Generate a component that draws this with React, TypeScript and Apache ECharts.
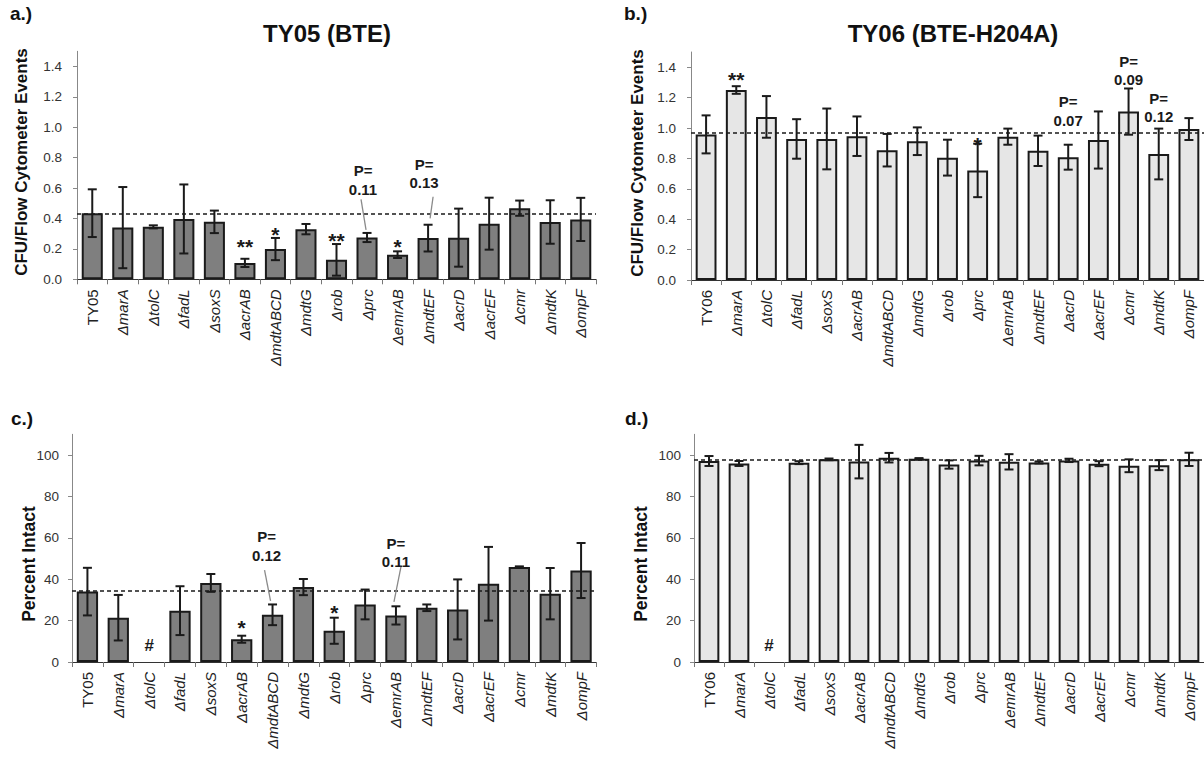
import React, { useEffect, useRef } from 'react';
import * as echarts from 'echarts';

// ---------- data ----------
const catsA = ['TY05', 'ΔmarA', 'ΔtolC', 'ΔfadL', 'ΔsoxS', 'ΔacrAB', 'ΔmdtABCD', 'ΔmdtG', 'Δrob', 'Δprc', 'ΔemrAB', 'ΔmdtEF', 'ΔacrD', 'ΔacrEF', 'Δcmr', 'ΔmdtK', 'ΔompF'];
const catsB = ['TY06', 'ΔmarA', 'ΔtolC', 'ΔfadL', 'ΔsoxS', 'ΔacrAB', 'ΔmdtABCD', 'ΔmdtG', 'Δrob', 'Δprc', 'ΔemrAB', 'ΔmdtEF', 'ΔacrD', 'ΔacrEF', 'Δcmr', 'ΔmdtK', 'ΔompF'];

const ratioTicks = [0, 0.2, 0.4, 0.6, 0.8, 1.0, 1.2, 1.4];
const pctTicks = [0, 20, 40, 60, 80, 100];

// a.) TY05 (BTE): CFU / flow cytometer events
const meanA = [0.435, 0.34, 0.345, 0.397, 0.378, 0.108, 0.199, 0.33, 0.128, 0.275, 0.162, 0.271, 0.274, 0.366, 0.468, 0.377, 0.394];
const sdA = [0.157, 0.267, 0.01, 0.227, 0.074, 0.027, 0.073, 0.034, 0.104, 0.03, 0.022, 0.088, 0.191, 0.171, 0.05, 0.143, 0.142];
const refA = 0.434;

// b.) TY06 (BTE-H204A)
const meanB = [0.958, 1.25, 1.073, 0.928, 0.928, 0.946, 0.854, 0.913, 0.805, 0.721, 0.943, 0.85, 0.808, 0.921, 1.108, 0.829, 0.993];
const sdB = [0.125, 0.025, 0.137, 0.13, 0.2, 0.13, 0.107, 0.091, 0.118, 0.176, 0.053, 0.1, 0.082, 0.188, 0.152, 0.167, 0.072];
const refB = 0.969;

// c.) TY05 percent intact
const meanC = [34, 21.4, null, 24.8, 38.2, 11, 22.8, 36.2, 15.1, 27.8, 22.5, 26.2, 25.4, 37.8, 45.9, 33, 44.2];
const sdC = [11.5, 11, null, 11.8, 4.3, 1.7, 5, 3.9, 6.3, 7.2, 4.4, 1.6, 14.5, 17.8, 0.3, 12.4, 13.3];
const refC = 34.4;

// d.) TY06 percent intact
const meanD = [97.1, 95.9, null, 96.3, 97.9, 96.8, 98.7, 98.2, 95.4, 97.3, 96.7, 96.4, 97.4, 95.8, 94.8, 95.1, 97.9];
const sdD = [2.4, 1.2, null, 0.7, 0.4, 8.1, 2.3, 0.3, 2, 2.3, 3.7, 0.5, 0.8, 1.2, 3.1, 2.4, 3.2];
const refD = 97.7;

// significance annotations (category index, value at which the note sits)
const notesA = [
  { cat: 5, y: 0.243, text: '**' },
  { cat: 6, y: 0.324, text: '*' },
  { cat: 8, y: 0.285, text: '**' },
  { cat: 9, y: 0.653, text: 'P=\n0.11', dx: -4 },
  { cat: 10, y: 0.247, text: '*' },
  { cat: 11, y: 0.697, text: 'P=\n0.13', dx: -4 },
];
const notesB = [
  { cat: 1, y: 1.349, text: '**' },
  { cat: 9, y: 0.921, text: '*' },
  { cat: 12, y: 1.113, text: 'P=\n0.07' },
  { cat: 14, y: 1.378, text: 'P=\n0.09' },
  { cat: 15, y: 1.135, text: 'P=\n0.12' },
];
const notesC = [
  { cat: 2, y: 8.2, text: '#' },
  { cat: 5, y: 18.8, text: '*' },
  { cat: 8, y: 26.1, text: '*' },
  { cat: 6, y: 55.9, text: 'P=\n0.12', dx: -6 },
  { cat: 10, y: 52.9, text: 'P=\n0.11' },
];
const notesD = [{ cat: 2, y: 8.2, text: '#' }];

// leader lines from P-value notes to bars (category, from value, to value)
const leadersA = [
  { cat: 9, from: 0.526, to: 0.325, dx1: -6, dx2: -1 },
  { cat: 11, from: 0.543, to: 0.401, dx1: 5, dx2: 2 },
];
const leadersC = [
  { cat: 6, from: 44.4, to: 29.5, dx1: -8, dx2: -2 },
  { cat: 10, from: 46, to: 29.1, dx1: 5, dx2: -2 },
];

// ---------- styling ----------
const FONT = "'Liberation Sans', Arial, sans-serif";
const DARK = '#1a1a1a';
const CAT_FS = 15;

function xAxisOf(gi: number, cats: string[]) {
  return {
    type: 'category',
    gridIndex: gi,
    data: cats,
    axisLine: { lineStyle: { color: '#333', width: 1 } },
    axisTick: { show: true, length: 5, lineStyle: { color: '#777' } },
    axisLabel: {
      interval: 0,
      rotate: 90,
      margin: 10,
      color: '#222',
      fontSize: CAT_FS,
      fontFamily: FONT,
      formatter: (v: string) => (v.startsWith('TY') ? `{n|${v}}` : `{i|${v}}`),
      rich: {
        n: { fontSize: CAT_FS, fontFamily: FONT, color: '#222' },
        i: { fontSize: CAT_FS, fontFamily: FONT, color: '#222', fontStyle: 'italic' },
      },
    },
    splitLine: { show: false },
  };
}

function yAxisOf(gi: number, max: number, ticks: number[], digits: number, margin: number) {
  return {
    type: 'value',
    gridIndex: gi,
    min: 0,
    max,
    axisLine: { show: true, lineStyle: { color: '#888', width: 1 } },
    axisTick: { show: true, length: 4, lineStyle: { color: '#888' }, customValues: ticks },
    axisLabel: {
      customValues: ticks,
      color: '#333',
      fontSize: 13.5,
      fontFamily: FONT,
      margin,
      formatter: (v: number) => v.toFixed(digits),
    },
    splitLine: { show: false },
  };
}

function barSeries(gi: number, means: (number | null)[], fill: string, ref: number) {
  return {
    type: 'bar',
    xAxisIndex: gi,
    yAxisIndex: gi,
    data: means.map((m) => (m == null ? '-' : m)),
    barCategoryGap: '31%',
    itemStyle: { color: fill, borderColor: DARK, borderWidth: 2 },
    markLine: {
      silent: true,
      symbol: 'none',
      label: { show: false },
      lineStyle: { type: [4, 3], color: DARK, width: 1.5 },
      data: [{ yAxis: ref }],
    },
  };
}

function errSeries(gi: number, means: (number | null)[], sds: (number | null)[]) {
  const data: number[][] = [];
  means.forEach((m, i) => {
    if (m != null && sds[i] != null) data.push([i, m, sds[i] as number]);
  });
  return {
    type: 'custom',
    xAxisIndex: gi,
    yAxisIndex: gi,
    data,
    z: 5,
    clip: false,
    silent: true,
    renderItem: (_p: any, api: any) => {
      const x = api.value(0);
      const m = api.value(1);
      const s = api.value(2);
      const hi = api.coord([x, m + s]);
      const lo = api.coord([x, m - s]);
      const cw = 4.5;
      const st = { stroke: DARK, lineWidth: 2 };
      return {
        type: 'group',
        children: [
          { type: 'line', shape: { x1: hi[0], y1: hi[1], x2: lo[0], y2: lo[1] }, style: st },
          { type: 'line', shape: { x1: hi[0] - cw, y1: hi[1], x2: hi[0] + cw, y2: hi[1] }, style: st },
          { type: 'line', shape: { x1: lo[0] - cw, y1: lo[1], x2: lo[0] + cw, y2: lo[1] }, style: st },
        ],
      };
    },
  };
}

function noteSeries(gi: number, notes: { cat: number; y: number; text: string; dx?: number }[]) {
  return {
    type: 'custom',
    xAxisIndex: gi,
    yAxisIndex: gi,
    data: notes.map((n) => [n.cat, n.y]),
    z: 6,
    clip: false,
    silent: true,
    renderItem: (p: any, api: any) => {
      const n = notes[p.dataIndex];
      const c = api.coord([api.value(0), api.value(1)]);
      const star = n.text.startsWith('*');
      const fs = star ? 21 : n.text === '#' ? 17 : 15;
      return {
        type: 'text',
        x: c[0] + (n.dx || 0),
        y: c[1] + (star ? fs * 0.22 : 0),
        style: {
          text: n.text,
          fill: DARK,
          fontSize: fs,
          fontWeight: 'bold',
          fontFamily: FONT,
          lineHeight: 18.6,
          align: 'center',
          verticalAlign: 'middle',
          textAlign: 'center',
          textVerticalAlign: 'middle',
        },
      };
    },
  };
}

function leaderSeries(gi: number, leaders: { cat: number; from: number; to: number; dx1: number; dx2: number }[]) {
  return {
    type: 'custom',
    xAxisIndex: gi,
    yAxisIndex: gi,
    data: leaders.map((l) => [l.cat, l.from, l.to]),
    z: 6,
    clip: false,
    silent: true,
    renderItem: (p: any, api: any) => {
      const l = leaders[p.dataIndex];
      const a = api.coord([api.value(0), api.value(1)]);
      const b = api.coord([api.value(0), api.value(2)]);
      return {
        type: 'line',
        shape: { x1: a[0] + l.dx1, y1: a[1], x2: b[0] + l.dx2, y2: b[1] },
        style: { stroke: '#8a8a8a', lineWidth: 1.3 },
      };
    },
  };
}

function label(text: string, x: number, y: number, size: number, align = 'left', rotation = 0) {
  return {
    type: 'text',
    x,
    y,
    rotation,
    style: {
      text,
      fill: '#111',
      fontSize: size,
      fontWeight: 'bold',
      fontFamily: FONT,
      align,
      verticalAlign: 'middle',
      textAlign: align,
      textVerticalAlign: 'middle',
    },
  };
}

export default function App() {
  const ref = useRef<HTMLDivElement>(null);
  useEffect(() => {
    if (!ref.current) return;
    const chart = echarts.init(ref.current, undefined, { renderer: 'svg' });
    const R = Math.PI / 2;
    const option = {
      animation: false,
      backgroundColor: '#ffffff',
      textStyle: { fontFamily: FONT },
      grid: [
        { left: 77, top: 51.3, width: 519, height: 228 },
        { left: 691, top: 52, width: 523, height: 228 },
        { left: 72, top: 434.3, width: 524.5, height: 227.7 },
        { left: 694, top: 434.3, width: 523, height: 227.7 },
      ],
      xAxis: [xAxisOf(0, catsA), xAxisOf(1, catsB), xAxisOf(2, catsA), xAxisOf(3, catsB)],
      yAxis: [
        yAxisOf(0, 1.5, ratioTicks, 1, 15),
        yAxisOf(1, 1.5, ratioTicks, 1, 15),
        yAxisOf(2, 110, pctTicks, 0, 13),
        yAxisOf(3, 110, pctTicks, 0, 13),
      ],
      series: [
        barSeries(0, meanA, '#7f7f7f', refA),
        errSeries(0, meanA, sdA),
        noteSeries(0, notesA),
        leaderSeries(0, leadersA),
        barSeries(1, meanB, '#e6e6e6', refB),
        errSeries(1, meanB, sdB),
        noteSeries(1, notesB),
        barSeries(2, meanC, '#7f7f7f', refC),
        errSeries(2, meanC, sdC),
        noteSeries(2, notesC),
        leaderSeries(2, leadersC),
        barSeries(3, meanD, '#e6e6e6', refD),
        errSeries(3, meanD, sdD),
        noteSeries(3, notesD),
      ],
      graphic: [
        label('a.)', 10, 13, 19),
        label('b.)', 624, 13, 19),
        label('c.)', 11, 418, 19),
        label('d.)', 625, 418, 19),
        label('TY05 (BTE)', 327, 33, 24, 'center'),
        label('TY06 (BTE-H204A)', 953, 33, 24, 'center'),
        label('CFU/Flow Cytometer Events', 21, 162, 17, 'center', R),
        label('CFU/Flow Cytometer Events', 637, 163, 17, 'center', R),
        label('Percent Intact', 29, 564, 17.5, 'center', R),
        label('Percent Intact', 641, 564, 17.5, 'center', R),
      ],
    };
    chart.setOption(option as any);
    return () => chart.dispose();
  }, []);
  return (
    <div
      ref={ref}
      style={{ position: 'fixed', left: 0, top: 0, width: 1204, height: 760, background: '#fff' }}
    />
  );
}
